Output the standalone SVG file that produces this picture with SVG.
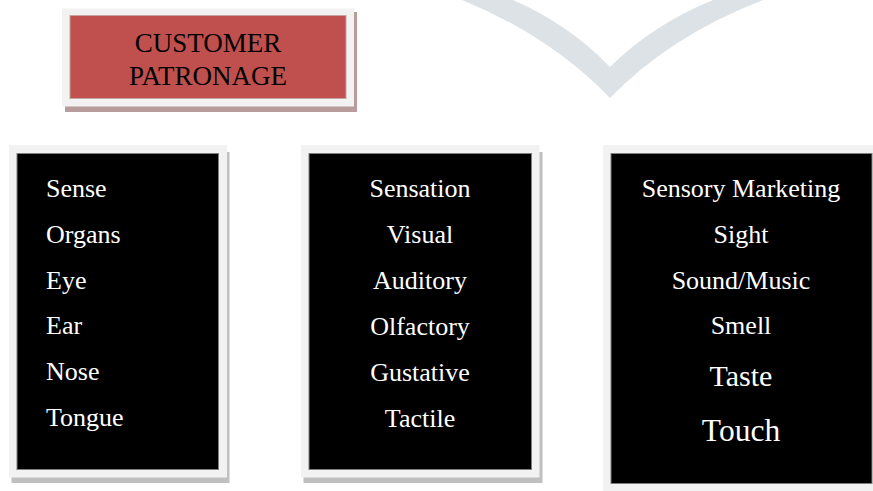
<svg xmlns="http://www.w3.org/2000/svg" width="873" height="491" viewBox="0 0 873 491">
  <style>
    .frame { fill: #f2f2f2; }
    .shadow { fill: #c0c0c0; }
    .panel { fill: #000000; stroke: #7f7f7f; stroke-width: 1; }
    .item { font-family: "Liberation Serif", "Times New Roman", serif; font-size: 26px; fill: #ffffff; }
    .mid { text-anchor: middle; }
    .title { font-family: "Liberation Serif", "Times New Roman", serif; font-size: 27px; fill: #000000; text-anchor: middle; }
  </style>

  <rect width="873" height="491" fill="#ffffff"/>

  <!-- pale chevron in the background -->
  <path id="chevron" d="M462,0 Q550,36 610,98 Q670,36 763,0 L713,0 Q652,25 610,67 Q570,25 513,0 Z" fill="#dce2e5"/>

  <!-- heading box -->
  <g id="customer-patronage">
    <rect x="65" y="12" width="292" height="100" fill="#b89b9b"/>
    <rect x="62" y="8.5" width="292" height="98" class="frame"/>
    <rect x="70" y="15.5" width="276" height="83" fill="#c0504d" stroke="#c4a3a2" stroke-width="1"/>
    <text x="208" y="52" class="title">CUSTOMER</text>
    <text x="208" y="85" class="title">PATRONAGE</text>
  </g>

  <!-- sense organs column -->
  <g id="sense-organs">
    <rect x="11.5" y="152" width="218" height="331" class="shadow"/>
    <rect x="9" y="145" width="218" height="332.5" class="frame"/>
    <rect x="17" y="153.5" width="201.5" height="316" class="panel"/>
    <text x="46" y="197" class="item">Sense</text>
    <text x="46" y="243" class="item">Organs</text>
    <text x="46" y="289" class="item">Eye</text>
    <text x="46" y="334" class="item">Ear</text>
    <text x="46" y="380" class="item">Nose</text>
    <text x="46" y="426" class="item">Tongue</text>
  </g>

  <!-- sensation column -->
  <g id="sensation">
    <rect x="303.5" y="152" width="239" height="331" class="shadow"/>
    <rect x="301" y="145" width="238.5" height="332.5" class="frame"/>
    <rect x="309" y="153.5" width="222.5" height="316" class="panel"/>
    <text x="420" y="197" class="item mid">Sensation</text>
    <text x="420" y="243" class="item mid">Visual</text>
    <text x="420" y="289" class="item mid">Auditory</text>
    <text x="420" y="335" class="item mid">Olfactory</text>
    <text x="420" y="381" class="item mid">Gustative</text>
    <text x="420" y="427" class="item mid">Tactile</text>
  </g>

  <!-- sensory marketing column -->
  <g id="sensory-marketing">
    <rect x="603" y="145" width="270" height="346" class="frame"/>
    <rect x="611" y="153.5" width="261" height="330" class="panel"/>
    <text x="741" y="197" class="item mid">Sensory Marketing</text>
    <text x="741" y="243" class="item mid">Sight</text>
    <text x="741" y="289" class="item mid">Sound/Music</text>
    <text x="741" y="334" class="item mid">Smell</text>
    <text x="741" y="386" class="item mid" style="font-size:30px">Taste</text>
    <text x="741" y="441" class="item mid" style="font-size:31.5px">Touch</text>
  </g>
</svg>
